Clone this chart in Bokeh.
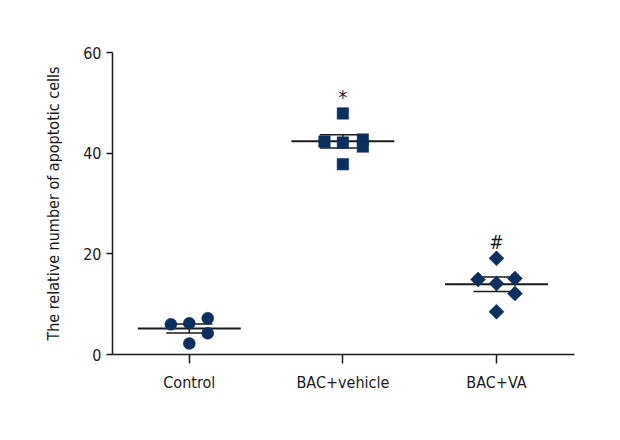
import numpy as np
from bokeh.plotting import figure
from bokeh.models import Range1d, FixedTicker, ColumnDataSource
from bokeh.core.properties import value
from bokeh.embed import file_html
from bokeh.resources import INLINE

# ---- data ----
categories = ["Control", "BAC+vehicle", "BAC+VA"]
control = [6.0, 6.2, 7.2, 4.2, 2.2]
bac_vehicle = [47.9, 42.3, 42.1, 42.7, 41.3, 37.8]
bac_va = [19.1, 14.9, 14.1, 15.1, 12.1, 8.5]
jitter_control = [-0.12, 0.0, 0.12, 0.12, 0.0]
jitter_vehicle = [0.0, -0.12, 0.0, 0.13, 0.13, 0.0]
jitter_va = [0.0, -0.12, 0.0, 0.12, 0.12, 0.0]
significance = ["", "*", "#"]
y_ticks = [0, 20, 40, 60]
y_label = "The relative number of apoptotic cells"

FONT = "DejaVu Sans Condensed"
NAVY = "#0b2f5e"
INK = "#1a1a1a"

p = figure(width=608, height=428, output_backend="svg", toolbar_location=None,
           x_range=Range1d(-0.5, 2.508), y_range=Range1d(0, 60),
           min_border_left=112, min_border_top=52, min_border_right=34,
           min_border_bottom=74)
p.outline_line_color = None
p.grid.visible = False
p.background_fill_color = "white"
p.border_fill_color = "white"

groups = [control, bac_vehicle, bac_va]
jitters = [jitter_control, jitter_vehicle, jitter_va]
markers = [("circle", 12, 0.0), ("square", 11.5, 0.0), ("square", 10.6, np.pi / 4)]

mean_half = 0.335
cap_half = 0.15
for i, vals in enumerate(groups):
    arr = np.array(vals)
    m = arr.mean()
    sem = arr.std(ddof=1) / np.sqrt(len(arr))
    # mean line
    p.segment(x0=[i - mean_half], y0=[m], x1=[i + mean_half], y1=[m],
              line_color=INK, line_width=2)
    # SEM bar
    p.segment(x0=[i], y0=[m - sem], x1=[i], y1=[m + sem], line_color=INK, line_width=1.5)
    p.segment(x0=[i - cap_half, i - cap_half], y0=[m - sem, m + sem],
              x1=[i + cap_half, i + cap_half], y1=[m - sem, m + sem],
              line_color=INK, line_width=1.5)

for i, vals in enumerate(groups):
    mk, sz, ang = markers[i]
    src = ColumnDataSource(dict(x=[i + j for j in jitters[i]], y=vals))
    p.scatter("x", "y", source=src, marker=mk, size=sz, angle=ang,
              fill_color=NAVY, line_color=NAVY, line_width=0.5)

# significance marks
for i, vals in enumerate(groups):
    if significance[i]:
        p.text(x=[i], y=[max(vals) + 3.3], text=[significance[i]],
               text_font=value(FONT), text_font_size="19px",
               text_align="center", text_baseline="middle", text_color=INK)

# axes
p.xaxis.ticker = FixedTicker(ticks=list(range(len(categories))))
p.xaxis.major_label_overrides = {i: c for i, c in enumerate(categories)}
p.yaxis.ticker = FixedTicker(ticks=y_ticks)
p.yaxis.axis_label = y_label

for ax in (p.xaxis, p.yaxis):
    ax.axis_line_color = INK
    ax.axis_line_width = 1.5
    ax.major_tick_line_color = INK
    ax.major_tick_line_width = 1.5
    ax.major_tick_in = 0
    ax.minor_tick_line_color = None
    ax.major_label_text_font = FONT
    ax.major_label_text_font_size = "16px"
    ax.major_label_text_color = INK
    ax.axis_label_text_font = FONT
    ax.axis_label_text_font_size = "16px"
    ax.axis_label_text_font_style = "normal"
    ax.axis_label_text_color = INK

p.xaxis.major_tick_out = 9
p.yaxis.major_tick_out = 6
p.xaxis.major_label_standoff = 9
p.yaxis.major_label_standoff = 5
p.yaxis.axis_label_standoff = 17

open("out.html", "w").write(file_html(p, INLINE))
